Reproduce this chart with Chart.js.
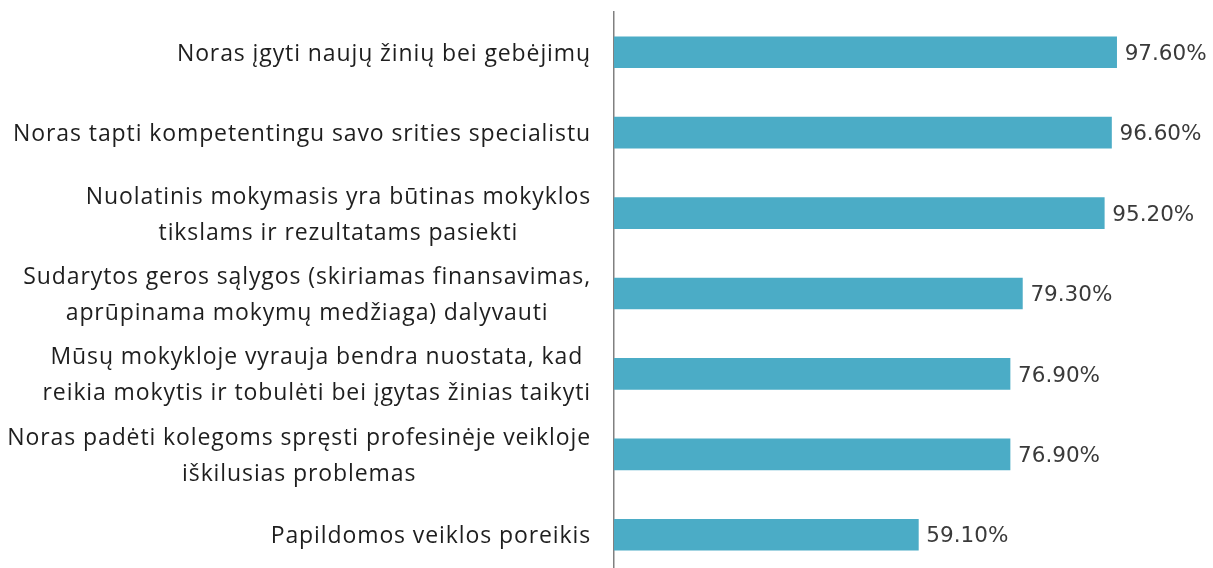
<!DOCTYPE html>
<html>
<head>
<meta charset="utf-8">
<script src="https://cdn.jsdelivr.net/npm/chart.js@4.4.1/dist/chart.umd.min.js"></script>
<style>
html,body{margin:0;padding:0;background:#fff;overflow:hidden;}
#wrap{width:1213px;height:578px;}
</style>
</head>
<body>
<div id="wrap"><canvas id="c" width="1213" height="578"></canvas></div>
<script>
const categories = [
  ["Noras įgyti naujų žinių bei gebėjimų"],
  ["Noras tapti kompetentingu savo srities specialistu"],
  ["Nuolatinis mokymasis yra būtinas mokyklos", "tikslams ir rezultatams pasiekti"],
  ["Sudarytos geros sąlygos (skiriamas finansavimas,", "aprūpinama mokymų medžiaga) dalyvauti"],
  ["Mūsų mokykloje vyrauja bendra nuostata, kad", "reikia mokytis ir tobulėti bei įgytas žinias taikyti"],
  ["Noras padėti kolegoms spręsti profesinėje veikloje", "iškilusias problemas"],
  ["Papildomos veiklos poreikis"]
];
const values = [97.6, 96.6, 95.2, 79.3, 76.9, 76.9, 59.1];
const valueLabels = ["97.60%", "96.60%", "95.20%", "79.30%", "76.90%", "76.90%", "59.10%"];

const labelFont = '23px "Open Sans", sans-serif';
const valueFont = '21.5px "DejaVu Sans", sans-serif';

const labelPlugin = {
  id: 'labelPlugin',
  afterDatasetsDraw(chart) {
    const ctx = chart.ctx;
    const xs = chart.scales.x, ys = chart.scales.y;
    ctx.save();
    ctx.font = valueFont;
    ctx.fillStyle = '#3a3a3a';
    ctx.textAlign = 'left';
    ctx.textBaseline = 'middle';
    values.forEach((v, i) => {
      ctx.fillText(valueLabels[i], xs.getPixelForValue(v) + 8, ys.getPixelForValue(i) + 2);
    });
    ctx.font = labelFont;
    ctx.letterSpacing = '0.9px';
    ctx.fillStyle = '#1e1e1e';
    ctx.textAlign = 'center';
    const right = chart.chartArea.left - 23;
    const lh = 36;
    categories.forEach((lines, i) => {
      const maxW = Math.max(...lines.map(l => ctx.measureText(l).width));
      const cx = right - maxW / 2;
      const cy = ys.getPixelForValue(i) + 2;
      const y0 = cy - (lines.length - 1) * lh / 2;
      lines.forEach((l, k) => ctx.fillText(l, cx, y0 + k * lh));
    });
    ctx.restore();
  }
};

new Chart(document.getElementById('c'), {
  type: 'bar',
  data: {
    labels: categories,
    datasets: [{
      data: values,
      backgroundColor: '#4BACC6',
      borderWidth: 0,
      barThickness: 31
    }]
  },
  options: {
    indexAxis: 'y',
    responsive: false,
    animation: false,
    layout: { padding: { top: 12, bottom: 3, left: 0, right: 84 } },
    plugins: { legend: { display: false }, tooltip: { enabled: false } },
    scales: {
      x: { display: false, min: 0, max: 100 },
      y: {
        ticks: { display: false },
        grid: { display: false },
        border: { display: true, color: '#808080', width: 1.5 },
        afterFit(scale) { scale.width = 614; }
      }
    }
  },
  plugins: [labelPlugin]
});
</script>
</body>
</html>
